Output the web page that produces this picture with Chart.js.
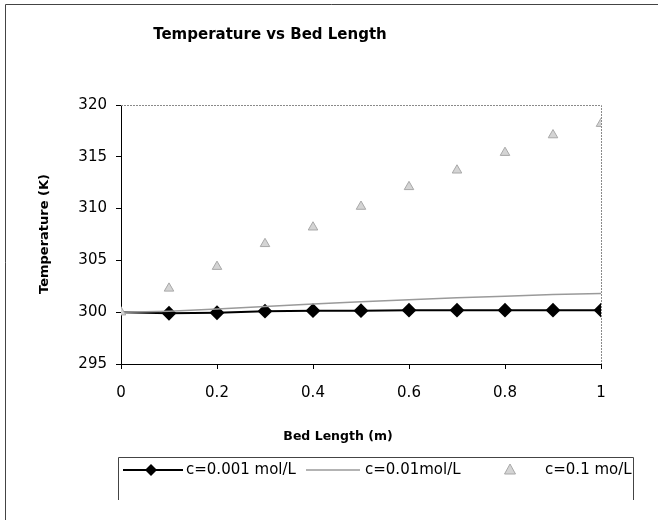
<!DOCTYPE html>
<html>
<head>
<meta charset="utf-8">
<script src="https://cdn.jsdelivr.net/npm/chart.js@4"></script>
<style>
  html, body { margin: 0; padding: 0; background: #fff; }
  #wrap { width: 658px; height: 520px; }
</style>
</head>
<body>
<div id="wrap"><canvas id="chart" width="658" height="520"></canvas></div>
<script>
// --- Data ---
const bedLength = [0, 0.1, 0.2, 0.3, 0.4, 0.5, 0.6, 0.7, 0.8, 0.9, 1.0];
const temp0001 = [300, 299.9, 299.95, 300.1, 300.15, 300.15, 300.2, 300.2, 300.2, 300.2, 300.2];
const temp001 = [300, 300.1, 300.3, 300.55, 300.8, 301.0, 301.2, 301.4, 301.55, 301.7, 301.8];
const temp01 = [300, 302.3, 304.4, 306.6, 308.2, 310.2, 312.1, 313.7, 315.4, 317.1, 318.2];
const seriesNames = ["c=0.001 mol/L", "c=0.01mol/L", "c=0.1 mo/L"];
const yTicks = [295, 300, 305, 310, 315, 320];
const xTicks = [0, 0.2, 0.4, 0.6, 0.8, 1];
const chartTitle = "Temperature vs Bed Length";
const xTitle = "Bed Length (m)";
const yTitle = "Temperature (K)";

const FONT = "'DejaVu Sans', sans-serif";

function toPoints(values) {
    return bedLength.map((x, i) => ({ x: x, y: values[i] }));
}

// plot-area border, outer frame, titles and the boxed legend
const framePlugin = {
    id: "frame",
    beforeDatasetsDraw(chart) {
        const { ctx, chartArea: a } = chart;
        ctx.save();
        ctx.strokeStyle = "#8a8a8a";
        ctx.lineWidth = 1;
        ctx.setLineDash([2, 1]);
        ctx.beginPath();
        ctx.moveTo(a.left, a.top + 0.5);
        ctx.lineTo(a.right + 0.5, a.top + 0.5);
        ctx.lineTo(a.right + 0.5, a.bottom);
        ctx.stroke();
        ctx.restore();
    },
    afterDraw(chart) {
        const ctx = chart.ctx;
        ctx.save();
        // outer chart frame (only left and top show in the scan)
        ctx.strokeStyle = "#444";
        ctx.lineWidth = 1;
        ctx.beginPath();
        ctx.moveTo(5.5, 520);
        ctx.lineTo(5.5, 4.5);
        ctx.lineTo(658, 4.5);
        ctx.stroke();

        // titles
        ctx.fillStyle = "#000";
        ctx.textAlign = "center";
        ctx.textBaseline = "middle";
        ctx.font = "bold 15px " + FONT;
        ctx.fillText(chartTitle, 270, 35);
        ctx.font = "bold 12.5px " + FONT;
        ctx.fillText(xTitle, 338, 437);
        ctx.save();
        ctx.translate(45, 234);
        ctx.rotate(-Math.PI / 2);
        ctx.font = "bold 13px " + FONT;
        ctx.fillText(yTitle, 0, 0);
        ctx.restore();
        ctx.textAlign = "left";

        // legend box
        const top = 457.5, left = 118.5, right = 633.5, bottom = 500;
        ctx.beginPath();
        ctx.moveTo(left, bottom);
        ctx.lineTo(left, top);
        ctx.lineTo(right, top);
        ctx.lineTo(right, bottom);
        ctx.stroke();

        const y = 470;
        ctx.font = "15px " + FONT;

        // item 1: black line with diamond
        ctx.strokeStyle = "#000";
        ctx.lineWidth = 2;
        ctx.beginPath();
        ctx.moveTo(123, y);
        ctx.lineTo(183, y);
        ctx.stroke();
        ctx.beginPath();
        ctx.moveTo(151, y - 6);
        ctx.lineTo(157, y);
        ctx.lineTo(151, y + 6);
        ctx.lineTo(145, y);
        ctx.closePath();
        ctx.fill();
        ctx.fillText(seriesNames[0], 186, y);

        // item 2: grey line
        ctx.strokeStyle = "#9a9a9a";
        ctx.lineWidth = 1.5;
        ctx.beginPath();
        ctx.moveTo(306, y);
        ctx.lineTo(360, y);
        ctx.stroke();
        ctx.fillText(seriesNames[1], 365, y);

        // item 3: grey triangle
        ctx.fillStyle = "#d4d4d4";
        ctx.strokeStyle = "#a8a8a8";
        ctx.lineWidth = 1;
        ctx.beginPath();
        ctx.moveTo(510, y - 6);
        ctx.lineTo(515.5, y + 4);
        ctx.lineTo(504.5, y + 4);
        ctx.closePath();
        ctx.fill();
        ctx.stroke();
        ctx.fillStyle = "#000";
        ctx.fillText(seriesNames[2], 545, y);
        ctx.restore();
    }
};

const ctx = document.getElementById("chart").getContext("2d");
new Chart(ctx, {
    type: "scatter",
    data: {
        datasets: [
            {
                label: seriesNames[2],
                data: toPoints(temp01),
                showLine: false,
                pointStyle: "triangle",
                pointRadius: 5.5,
                backgroundColor: "#d4d4d4",
                borderColor: "#a8a8a8",
                borderWidth: 1,
                order: 0
            },
            {
                label: seriesNames[1],
                data: toPoints(temp001),
                showLine: true,
                pointRadius: 0,
                borderColor: "#9a9a9a",
                borderWidth: 1.5,
                order: 1
            },
            {
                label: seriesNames[0],
                data: toPoints(temp0001),
                showLine: true,
                pointStyle: "rectRot",
                pointRadius: (c) => c.dataIndex === 0 ? 0 : 6,
                backgroundColor: "#000",
                borderColor: "#000",
                borderWidth: 2,
                order: 2
            }
        ]
    },
    options: {
        responsive: false,
        animation: false,
        devicePixelRatio: 1,
        layout: { padding: { left: 0, right: 57, top: 105, bottom: 70 } },
        plugins: {
            legend: { display: false },
            tooltip: { enabled: false },
            title: { display: false }
        },
        scales: {
            x: {
                type: "linear",
                min: 0,
                max: 1,
                afterBuildTicks: (scale) => { scale.ticks = xTicks.map(v => ({ value: v })); },
                afterFit: (scale) => { scale.height = 86; },
                ticks: {
                    color: "#000",
                    font: { family: FONT, size: 15 },
                    padding: 15,
                    maxRotation: 0,
                    callback: (v) => String(Math.round(v * 10) / 10)
                },
                grid: { drawOnChartArea: false, tickLength: 5, color: "#000" },
                border: { color: "#000", width: 1 }
            },
            y: {
                min: 295,
                max: 320,
                afterBuildTicks: (scale) => { scale.ticks = yTicks.map(v => ({ value: v })); },
                afterFit: (scale) => { scale.width = 121; },
                ticks: {
                    color: "#000",
                    font: { family: FONT, size: 15 },
                    padding: 9
                },
                grid: { drawOnChartArea: false, tickLength: 5, color: "#000" },
                border: { color: "#000", width: 1 }
            }
        }
    },
    plugins: [framePlugin]
});
</script>
</body>
</html>
